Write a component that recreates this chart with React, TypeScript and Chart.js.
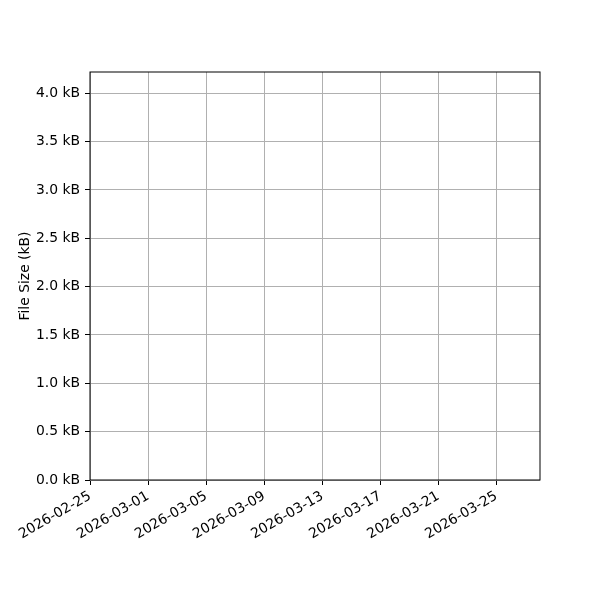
import React, { useEffect, useRef } from 'react';
import { Chart, registerables } from 'chart.js';

Chart.register(...registerables);

// no recorded points in this chart
const dates: string[] = [];
const fileSizes: number[] = [];

const xStart = '2026-02-25';
const xEnd = '2026-03-28';
const xTickDates = [
    '2026-02-25', '2026-03-01', '2026-03-05', '2026-03-09',
    '2026-03-13', '2026-03-17', '2026-03-21', '2026-03-25',
];
const yTicks = [0, 0.5, 1, 1.5, 2, 2.5, 3, 3.5, 4];
const yMax = 4.22;

const DAY = 86400000;
const toDay = (d: string) => (Date.parse(d + 'T00:00:00Z') - Date.parse(xStart + 'T00:00:00Z')) / DAY;
const toDate = (n: number) => new Date(Date.parse(xStart + 'T00:00:00Z') + n * DAY).toISOString().slice(0, 10);

const frame = {
    id: 'frame',
    afterDraw(chart: any) {
        const { ctx, chartArea } = chart;
        ctx.save();
        ctx.strokeStyle = '#000';
        ctx.lineWidth = 1;
        ctx.strokeRect(chartArea.left, chartArea.top, chartArea.right - chartArea.left, chartArea.bottom - chartArea.top);
        ctx.restore();
    },
};

const FileSizeChart: React.FC = () => {
    const chartRef = useRef<HTMLCanvasElement>(null);

    useEffect(() => {
        document.body.style.margin = '0';
        const ctx = chartRef.current?.getContext('2d');
        if (!ctx) return;
        const font = { family: '"DejaVu Sans", sans-serif', size: 13.9 };
        const chart = new Chart(ctx, {
            type: 'line',
            data: {
                datasets: [
                    {
                        label: 'File Size',
                        data: dates.map((d, i) => ({ x: toDay(d), y: fileSizes[i] })),
                        borderColor: '#1f77b4',
                        backgroundColor: '#1f77b4',
                    },
                ],
            },
            options: {
                animation: false,
                responsive: true,
                maintainAspectRatio: false,
                layout: { padding: { top: 72, right: 60, left: 0, bottom: 0 } },
                plugins: { legend: { display: false }, tooltip: { enabled: false } },
                scales: {
                    x: {
                        type: 'linear',
                        min: 0,
                        max: toDay(xEnd),
                        afterBuildTicks: (scale: any) => {
                            scale.ticks = xTickDates.map((d) => ({ value: toDay(d) }));
                        },
                        afterFit: (scale: any) => {
                            scale.height = 120;
                        },
                        ticks: {
                            callback: (v: any) => toDate(Number(v)),
                            color: '#000',
                            font,
                            minRotation: 30,
                            maxRotation: 30,
                            autoSkip: false,
                            padding: 3,
                        },
                        grid: { color: '#b0b0b0', tickColor: '#000', tickLength: 5, lineWidth: 1 },
                        border: { display: false },
                    },
                    y: {
                        type: 'linear',
                        min: 0,
                        max: yMax,
                        afterBuildTicks: (scale: any) => {
                            scale.ticks = yTicks.map((v) => ({ value: v }));
                        },
                        afterFit: (scale: any) => {
                            scale.width = 90;
                        },
                        ticks: {
                            callback: (v: any) => `${Number(v).toFixed(1)} kB`,
                            color: '#000',
                            font,
                            padding: 5,
                        },
                        grid: { color: '#b0b0b0', tickColor: '#000', tickLength: 5, lineWidth: 1 },
                        border: { display: false },
                        title: {
                            display: true,
                            text: 'File Size (kB)',
                            color: '#000',
                            font,
                            padding: { top: 17, bottom: 0 },
                        },
                    },
                },
            },
            plugins: [frame],
        });
        return () => chart.destroy();
    }, []);

    return (
        <div style={{ width: 600, height: 600, background: '#fff' }}>
            <canvas ref={chartRef}></canvas>
        </div>
    );
};

export default FileSizeChart;
